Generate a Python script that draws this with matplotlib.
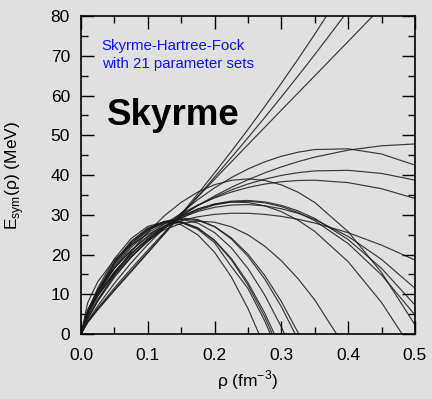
import numpy as np
import matplotlib
matplotlib.use("Agg")
import matplotlib.pyplot as plt
from matplotlib.ticker import MultipleLocator

nan = np.nan

# density grid (fm^-3)
rho = [0, 0.01, 0.025, 0.05, 0.075, 0.1, 0.125, 0.15, 0.175, 0.2,
       0.225, 0.25, 0.275, 0.3, 0.325, 0.35, 0.4, 0.45, 0.5]

# symmetry energy (MeV) of the 21 parameter sets
# soft sets, dropping to zero below 0.33 fm^-3
s1 = [0, 5.68, 11.55, 18.93, 24.02, 27.08, 28.21, 27.49, 24.92, 20.55,
      14.38, 6.43, -3.30, nan, nan, nan, nan, nan, nan]
s2 = [0, 5.37, 10.99, 18.16, 23.28, 26.58, 28.16, 28.07, 26.32, 22.97,
      17.01, 11.46, 3.31, -6.40, nan, nan, nan, nan, nan]
s3 = [0, 5.30, 10.89, 18.08, 23.25, 26.62, 28.29, 28.30, 26.71, 23.49,
      18.70, 12.32, 4.37, -5.14, nan, nan, nan, nan, nan]
s4 = [0, 5.13, 10.60, 17.68, 22.81, 26.20, 27.93, 28.06, 26.61, 23.59,
      19.03, 12.93, 5.31, -3.84, nan, nan, nan, nan, nan]
s5 = [0, 5.10, 10.51, 17.54, 22.73, 26.29, 28.31, 28.83, 27.90, 25.51,
      21.70, 16.47, 9.82, 1.78, -7.67, nan, nan, nan, nan]
s6 = [0, 4.87, 10.12, 17.04, 22.26, 25.98, 28.28, 29.20, 28.78, 27.02,
      23.94, 19.55, 13.85, 6.87, -1.41, nan, nan, nan, nan]
s7 = [0, 4.71, 9.83, 16.61, 21.77, 25.48, 27.83, 28.85, 28.58, 27.02,
      24.19, 20.10, 14.76, 8.17, 0.34, -8.73, nan, nan, nan]
x1 = [0, 4.93, 9.64, 15.69, 20.31, 23.80, 26.28, 27.80, 28.40, 28.12,
      26.97, 24.96, 22.11, 18.43, 13.91, 8.58, -4.55, nan, nan]
# sets peaking near 30-39 MeV around 0.25 fm^-3
m1 = [0, 6.02, 10.84, 16.62, 21.00, 24.45, 27.17, 29.27, 30.83, 31.87,
      32.44, 32.56, 32.24, 31.51, 30.36, 28.81, 24.55, 18.77, 11.51]
m2 = [0, 5.02, 9.59, 15.49, 20.20, 24.04, 27.15, 29.61, 31.46, 32.72,
      33.43, 33.60, 33.24, 32.36, 30.97, 29.07, 23.77, 16.51, 7.30]
m3 = [0, 4.40, 8.75, 14.59, 19.37, 23.33, 26.57, 29.16, 31.11, 32.46,
      33.22, 33.40, 33.01, 32.06, 30.56, 28.50, 22.76, 14.85, 4.80]
m4 = [0, 3.92, 8.24, 14.25, 19.26, 23.43, 26.82, 29.48, 31.42, 32.66,
      33.20, 33.07, 32.26, 30.77, 28.62, 25.81, 18.19, 7.93, -4.94]
m5 = [0, 7.87, 13.13, 18.67, 22.40, 25.10, 27.08, 28.51, 29.49, 30.10,
      30.38, 30.37, 30.09, 29.59, 28.86, 27.92, 25.49, 22.36, 18.61]
m6 = [0, 3.71, 8.28, 14.96, 20.71, 25.63, 29.76, 33.12, 35.72, 37.56,
      38.66, 39.02, 38.64, 37.52, 35.67, 33.09, 25.74, 15.48, 2.31]
# stiffer sets, 34-48 MeV at 0.5 fm^-3
u1 = [0, 5.24, 9.59, 15.06, 19.50, 23.31, 26.67, 29.66, 32.33, 34.73,
      36.89, 38.81, 40.53, 42.04, 43.36, 44.50, 46.26, 47.35, 47.81]
u2 = [0, 3.21, 7.06, 12.76, 17.88, 22.51, 26.69, 30.46, 33.81, 36.77,
      39.33, 41.51, 43.30, 44.71, 45.74, 46.40, 46.59, 45.28, 42.50]
u3 = [0, 5.37, 9.86, 15.47, 19.97, 23.78, 27.05, 29.89, 32.34, 34.45,
      36.24, 37.74, 38.95, 39.90, 40.59, 41.03, 41.18, 40.40, 38.71]
u4 = [0, 6.04, 10.81, 16.55, 21.00, 24.64, 27.70, 30.28, 32.44, 34.24,
      35.70, 36.86, 37.72, 38.30, 38.62, 38.69, 38.08, 36.55, 34.11]
# nearly linear, very stiff sets
l1 = [0, 2.89, 6.06, 10.92, 15.65, 20.41, 25.25, 30.20, 35.29, 40.53,
      45.92, 51.47, 57.20, 63.09, 69.17, 75.42, 88.47, nan, nan]
l2 = [0, 2.96, 6.21, 11.12, 15.85, 20.51, 25.18, 29.89, 34.65, 39.48,
      44.39, 49.38, 54.46, 59.64, 64.91, 70.29, 81.35, nan, nan]
l3 = [0, 3.09, 6.50, 11.61, 16.41, 21.06, 25.61, 30.09, 34.52, 38.92,
      43.29, 47.64, 51.98, 56.31, 60.63, 64.96, 73.60, 82.26, nan]

curves = [s1, s2, s3, s4, s5, s6, s7, x1, m1, m2, m3, m4, m5, m6,
          u1, u2, u3, u4, l1, l2, l3]

bg = '#e0e0e0'
plt.rcParams['font.family'] = ['Liberation Sans', 'DejaVu Sans']

fig = plt.figure(figsize=(4.32, 3.99), dpi=100, facecolor=bg)
ax = fig.add_axes([0.1875, 0.1629, 0.773, 0.797], facecolor=bg)

for e in curves:
    ax.plot(rho, e, color='#1a1a1a', lw=0.85, alpha=0.85)

ax.set_xlim(0, 0.5)
ax.set_ylim(0, 80)
ax.xaxis.set_minor_locator(MultipleLocator(0.05))
ax.yaxis.set_major_locator(MultipleLocator(10))
ax.yaxis.set_minor_locator(MultipleLocator(5))
ax.set_xticks([0, 0.1, 0.2, 0.3, 0.4, 0.5])
ax.set_xticklabels(['0.0', '0.1', '0.2', '0.3', '0.4', '0.5'])
ax.tick_params(which='both', direction='in', top=True, right=True,
               width=1.0, labelsize=12.5)
ax.tick_params(which='major', length=9.4)
ax.tick_params(which='minor', length=4.8)
ax.tick_params(axis='x', pad=10)
ax.tick_params(axis='y', pad=8)
for sp in ax.spines.values():
    sp.set_linewidth(1.2)

ax.set_xlabel('ρ (fm$^{\\mathregular{-3}}$)', fontsize=12.5)
ax.set_ylabel('E$_{\\mathregular{sym}}$(ρ) (MeV)', fontsize=12.5)
ax.yaxis.set_label_coords(-0.165, 0.5)

ax.text(0.031, 71.4, 'Skyrme-Hartree-Fock', color='#1010ff', fontsize=10.8)
ax.text(0.031, 66.8, 'with 21 parameter sets', color='#1010ff', fontsize=10.8)
ax.text(0.039, 52.6, 'Skyrme', fontsize=26.5, fontweight='bold')

fig.savefig('out.png', dpi=100, facecolor=bg)
